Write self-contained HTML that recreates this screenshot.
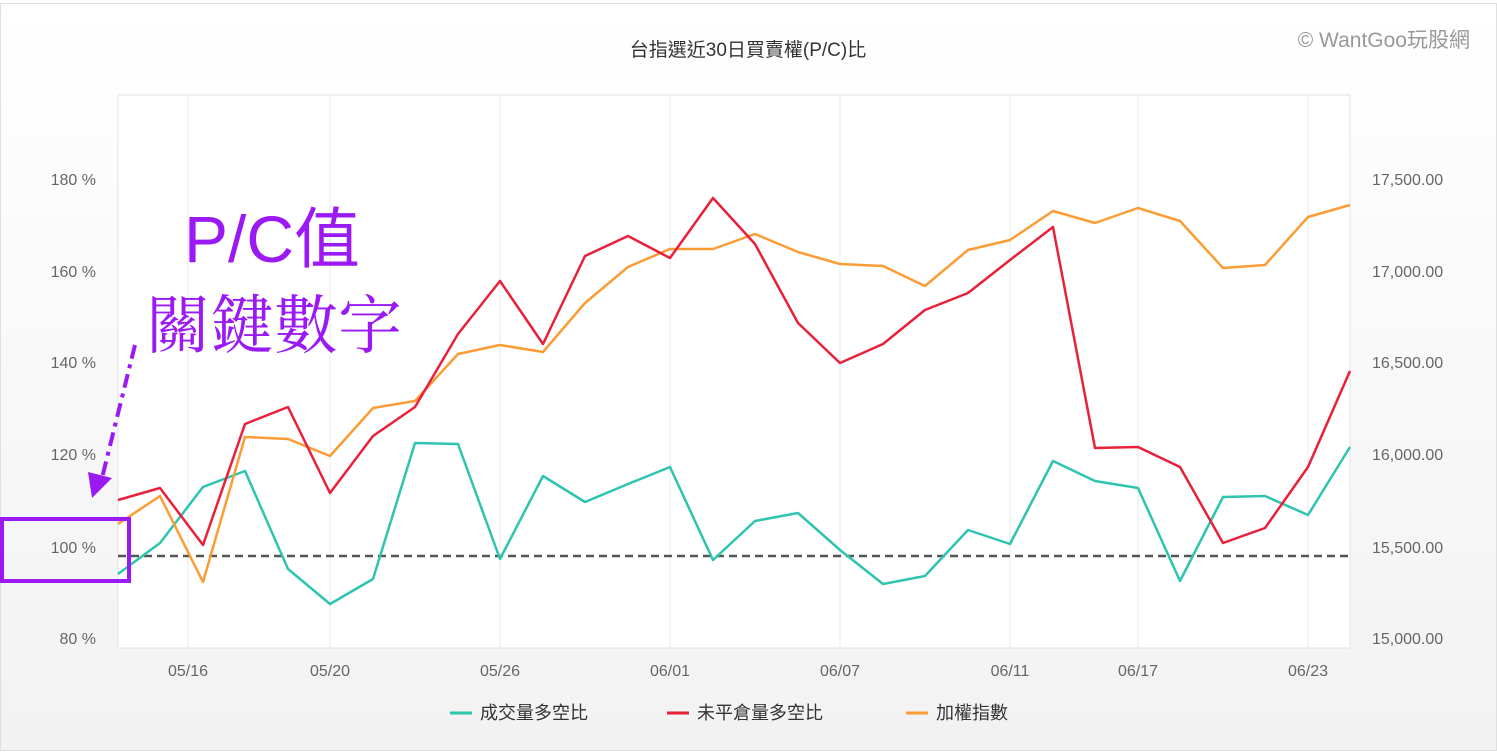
<!DOCTYPE html>
<html><head><meta charset="utf-8"><style>
html,body{margin:0;padding:0;}
body{width:1497px;height:751px;overflow:hidden;font-family:"Liberation Sans","Noto Sans CJK TC",sans-serif;}
</style></head><body>
<svg width="1497" height="751" xmlns="http://www.w3.org/2000/svg" font-family="Liberation Sans, Noto Sans CJK TC, sans-serif">
<defs><linearGradient id="bg" x1="0" y1="0" x2="0" y2="1"><stop offset="0" stop-color="#ffffff"/><stop offset="1" stop-color="#f2f2f2"/></linearGradient></defs>
<rect x="0.5" y="3.5" width="1496" height="747" fill="url(#bg)" stroke="#e0e0e0"/>
<rect x="118" y="95" width="1232" height="553" fill="#fff" stroke="#dfe3e8"/>
<g stroke="#e8eaee" stroke-width="1">
<line x1="188" y1="95" x2="188" y2="648"/><line x1="330" y1="95" x2="330" y2="648"/><line x1="500" y1="95" x2="500" y2="648"/><line x1="670" y1="95" x2="670" y2="648"/><line x1="840" y1="95" x2="840" y2="648"/><line x1="1010" y1="95" x2="1010" y2="648"/><line x1="1138" y1="95" x2="1138" y2="648"/><line x1="1308" y1="95" x2="1308" y2="648"/>
</g>
<text x="748" y="56" text-anchor="middle" font-size="19" fill="#333">台指選近30日買賣權(P/C)比</text>
<text x="1470" y="47" text-anchor="end" font-size="21" fill="#999">© WantGoo玩股網</text>
<g font-size="16" fill="#666" text-anchor="end">
<text x="96" y="185">180 %</text><text x="96" y="277">160 %</text><text x="96" y="368">140 %</text><text x="96" y="460">120 %</text><text x="96" y="553">100 %</text><text x="96" y="644">80 %</text>
</g>
<g font-size="16" fill="#666" text-anchor="start">
<text x="1372" y="185">17,500.00</text><text x="1372" y="277">17,000.00</text><text x="1372" y="368">16,500.00</text><text x="1372" y="460">16,000.00</text><text x="1372" y="553">15,500.00</text><text x="1372" y="644">15,000.00</text>
</g>
<g font-size="16" fill="#666" text-anchor="middle">
<text x="188" y="676">05/16</text><text x="330" y="676">05/20</text><text x="500" y="676">05/26</text><text x="670" y="676">06/01</text><text x="840" y="676">06/07</text><text x="1010" y="676">06/11</text><text x="1138" y="676">06/17</text><text x="1308" y="676">06/23</text>
</g>
<line x1="118" y1="556" x2="1350" y2="556" stroke="#555" stroke-width="2.5" stroke-dasharray="8,5"/>
<g fill="none" stroke-width="2.5" stroke-linejoin="round">
<polyline stroke="#2ec4b0" points="118,574 160,543 203,487 245,471 288,569 330,604 373,579 415,443 458,444 500,559 543,476 585,502 628,484 670,467 713,560 755,521 798,513 840,550 883,584 925,576 968,530 1010,544 1053,461 1095,481 1138,488 1180,581 1223,497 1265,496 1308,515 1350,447"/>
<polyline stroke="#fb9c35" points="118,524 160,496 203,582 245,437 288,439 330,456 373,408 415,401 458,354 500,345 543,352 585,303 628,267 670,249 713,249 755,234 798,252 840,264 883,266 925,286 968,250 1010,240 1053,211 1095,223 1138,208 1180,221 1223,268 1265,265 1308,217 1350,205"/>
<polyline stroke="#e8203a" points="118,500 160,488 203,545 245,424 288,407 330,493 373,436 415,407 458,334 500,281 543,344 585,256 628,236 670,258 713,198 755,244 798,323 840,363 883,344 925,310 968,293 1010,260 1053,227 1095,448 1138,447 1180,467 1223,543 1265,528 1308,467 1350,371"/>
</g>
<g font-size="18" fill="#333">
<line x1="450" y1="713" x2="472" y2="713" stroke="#2ec4b0" stroke-width="3"/><text x="480" y="719">成交量多空比</text>
<line x1="667" y1="713" x2="689" y2="713" stroke="#e8203a" stroke-width="3"/><text x="697" y="719">未平倉量多空比</text>
<line x1="906" y1="713" x2="928" y2="713" stroke="#fb9c35" stroke-width="3"/><text x="936" y="719">加權指數</text>
</g>
<text x="272" y="262" text-anchor="middle" font-size="66" fill="#9b19f5">P/C值</text>
<text x="274" y="348" text-anchor="middle" font-size="64" fill="#9b19f5" font-family="Noto Serif CJK SC, serif">關鍵數字</text>
<line x1="135" y1="345" x2="102" y2="478" stroke="#9b19f5" stroke-width="4" stroke-dasharray="14,6,4,6"/>
<polygon points="92,498 88,472 112,478" fill="#9b19f5"/>
<rect x="2" y="519" width="127" height="62" fill="none" stroke="#9b19f5" stroke-width="4"/>
</svg>
</body></html>
